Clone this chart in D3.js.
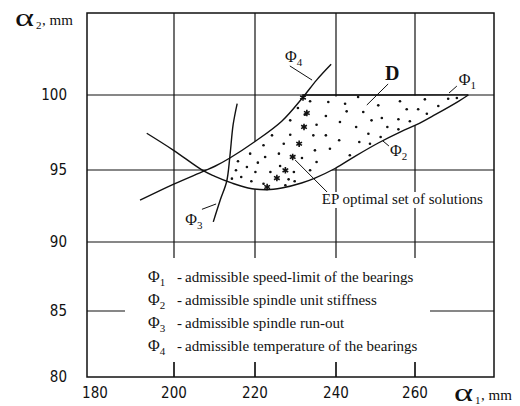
<!DOCTYPE html>
<html><head><meta charset="utf-8">
<script src="https://cdn.jsdelivr.net/npm/d3@7"></script>
<style>body{margin:0;background:#fff}svg{display:block}</style>
</head><body>
<svg id="c" width="520" height="406"></svg>
<script>
// ---------- data ----------
const xTicks = [180, 200, 220, 240, 260];
const yTicks = [80, 85, 90, 95, 100];
const xGrid = [200, 220, 240, 260];
const yGridFull = [90, 95, 100];
const yGridPartial = [85];

// Φ4 – admissible temperature of the bearings
const phi4 = [[191.4,92.9],[199.8,94.0],[207.2,94.9],[210.1,95.25],[213.8,95.8],[220,96.9],[226.6,98.25],[231.9,99.87],[235.2,101.0],[238.8,102.06]];
// Φ2 – admissible spindle unit stiffness
const phi2 = [[193.1,97.45],[199.8,96.33],[207.2,94.95],[210.1,94.56],[214.2,94.1],[218.3,93.75],[222.9,93.63],[226.6,93.75],[231.5,94.1],[234.8,94.44],[239.75,95.1],[244.8,95.91],[250.7,96.8],[256.6,97.58],[260.4,98.02],[265.1,98.69],[271.0,99.58],[273.5,100]];
// Φ3 – admissible spindle run-out
const phi3 = [[215.6,99.43],[214.6,98.02],[213.8,95.91],[213.0,94.2],[211.4,92.9],[209.7,91.4]];
// Φ1 – admissible speed-limit (alpha2 = 100)
const phi1Level = 100;

// feasible set D (small dots) and EP optimal set (asterisks)
const feasibleDots = [
 [230.6,99.13],[232.3,98.69],[228.7,98.31],[228.7,97.35],[224.2,97.31],[227.1,96.75],[222.1,96.65],[218.8,96.09],
 [222.5,95.87],[225.9,96.09],[231.6,95.8],[215.8,95.58],[218.0,95.2],[220.7,95.49],[226.2,95.27],[215.3,94.98],
 [220.1,94.86],[223.8,94.86],[229.6,94.86],[216.6,94.51],[214.3,94.4],[228.3,94.35],[229.8,94.22],[219.1,94.22],
 [222.1,94.05],[227.5,93.94],[233.6,99.58],[238.1,99.53],[242.3,99.42],[245.6,99.87],[246.9,98.87],[250.7,99.31],
 [242.7,98.91],[237.5,98.6],[241.0,98.2],[245.1,97.87],[249.0,98.31],[251.6,98.47],[235.2,98.02],[234.4,97.31],
 [237.5,97.31],[240.8,96.98],[248.2,97.42],[251.3,97.2],[253.0,97.87],[245.9,96.87],[248.6,96.75],[234.8,96.31],
 [238.5,96.42],[243.5,95.98],[235.2,95.53],[233.6,94.98],[256.2,99.58],[262.5,99.71],[268.4,99.75],[270.6,99.8],
 [265.9,99.27],[260.8,99.05],[257.9,99.05],[263.0,98.75],[255.8,98.38],[258.7,98.25],[255.8,97.71]
];
const optimalSet = [[231.85,99.83],[232.8,98.8],[232.1,97.87],[230.9,96.75],[229.3,95.87],[227.5,94.98],[225.4,94.44],[223.0,93.82]];

// labels
const curveLabels = [
  {name:"Φ", sub:"1", at:[271.1,100.67], leader:[[268.6,100.13],[270.6,100.6]]},
  {name:"Φ", sub:"2", at:[253.7,95.93], leader:[[251.9,96.93],[253.4,96.6]]},
  {name:"Φ", sub:"3", at:[202.8,91.18], leader:[[206.9,92.27],[210.4,92.64]]},
  {name:"Φ", sub:"4", at:[227.4,102.2], leader:[[228.6,101.95],[234.1,101.0]]}
];
const regionLabel = {text:"D", at:[252.4,101.0], leader:[[253.2,100.74],[247.8,99.33]]};
const epLabel = {text:"EP optimal set of solutions", at:[236.5,92.64], leader:[[229.9,95.67],[237.8,93.47]]};
const legendItems = [
  {sub:"1", text:"admissible speed-limit of the bearings"},
  {sub:"2", text:"admissible spindle unit stiffness"},
  {sub:"3", text:"admissible spindle run-out"},
  {sub:"4", text:"admissible temperature of the bearings"}
];

// ---------- layout ----------
const svg = d3.select("#c");
const x = d3.scaleLinear().domain([178,180,200,220,240,260,280]).range([87,95,174,255,336,415,494]);
const y = d3.scaleLinear().domain([80,85,90,95,100,105.5]).range([377,311,242,170,95,13]);
const X0 = x(178), X1 = x(280), Y0 = y(80), Y1 = y(105.5);
const serif = "'Liberation Serif','Times New Roman',serif";
const narrow = "'Liberation Sans Narrow','Arial Narrow','DejaVu Sans Condensed',sans-serif";
const ink = "#111";

const g = svg.append("g");

// grid lines
g.selectAll("line.vg").data(xGrid).join("line").attr("class", "vg")
  .attr("x1", d=>x(d)).attr("x2", d=>x(d)).attr("y1", Y1).attr("y2", Y0)
  .attr("stroke", ink).attr("stroke-width", 1.2);
g.selectAll("line.hg").data(yGridFull.concat(yGridPartial)).join("line").attr("class", "hg")
  .attr("x1", X0).attr("x2", X1).attr("y1", d=>y(d)).attr("y2", d=>y(d))
  .attr("stroke", ink).attr("stroke-width", 1.2);

// white legend panel masking the grid
g.append("rect").attr("x", 125).attr("y", 258).attr("width", 305).attr("height", 104).attr("fill", "#fff");

// feasible region D (white, hides the grid)
const curve = d3.line().x(d=>x(d[0])).y(d=>y(d[1])).curve(d3.curveCatmullRom);
const cross = phi4[2][0];
const seg4 = phi4.filter(d => d[0] >= cross && d[1] <= phi1Level);
const seg2 = phi2.filter(d => d[0] >= cross).slice().reverse();
g.append("path")
  .attr("d", curve(seg4) + curve(seg2).replace(/^M/, "L") + "Z")
  .attr("fill", "#fff");

// frame
g.append("rect").attr("x", X0).attr("y", Y1).attr("width", X1-X0).attr("height", Y0-Y1)
  .attr("fill", "none").attr("stroke", ink).attr("stroke-width", 1.5);

// Φ1 line segment on top of region
g.append("line").attr("x1", x(seg4[seg4.length-1][0])).attr("x2", x(phi2[phi2.length-1][0]))
  .attr("y1", y(phi1Level)).attr("y2", y(phi1Level)).attr("stroke", ink).attr("stroke-width", 1.3);

// curves
[phi4, phi2, phi3].forEach(c => {
  g.append("path").attr("d", curve(c)).attr("fill", "none").attr("stroke", ink).attr("stroke-width", 1.4);
});

// dots
g.selectAll("circle.fd").data(feasibleDots).join("circle").attr("class", "fd")
  .attr("cx", d=>x(d[0])).attr("cy", d=>y(d[1])).attr("r", 1.3).attr("fill", ink);
g.selectAll("path.ep").data(optimalSet).join("path").attr("class", "ep")
  .attr("transform", d=>`translate(${x(d[0])},${y(d[1])})`)
  .attr("d", d3.symbol().type(d3.symbolAsterisk).size(30))
  .attr("fill", "none").attr("stroke", ink).attr("stroke-width", 1.6);

// leaders
const straight = d3.line().x(d=>x(d[0])).y(d=>y(d[1]));
curveLabels.concat([regionLabel, epLabel]).forEach(l => {
  g.append("path").attr("d", straight(l.leader)).attr("stroke", ink).attr("stroke-width", 1).attr("fill", "none");
});

// curve labels
curveLabels.forEach(l => {
  const t = g.append("text").attr("x", x(l.at[0])).attr("y", y(l.at[1]))
    .attr("font-family", serif).attr("font-size", 16).attr("fill", ink).text(l.name);
  t.append("tspan").attr("font-size", 11).attr("dy", 4).text(l.sub);
});
g.append("text").attr("x", x(regionLabel.at[0])).attr("y", y(regionLabel.at[1]))
  .attr("font-family", serif).attr("font-size", 20).attr("font-weight", "bold").attr("fill", ink).text(regionLabel.text);

// EP label with white background
const ex = x(epLabel.at[0]), ey = y(epLabel.at[1]);
g.append("rect").attr("x", ex-2).attr("y", ey-12).attr("width", 167).attr("height", 16).attr("fill", "#fff");
g.append("text").attr("x", ex).attr("y", ey).attr("font-family", serif).attr("font-size", 15)
  .attr("fill", ink).text(epLabel.text);

// ticks at bottom inside legend area
g.selectAll("line.bt").data(xGrid).join("line").attr("class", "bt")
  .attr("x1", d=>x(d)).attr("x2", d=>x(d)).attr("y1", Y0-15).attr("y2", Y0)
  .attr("stroke", ink).attr("stroke-width", 1.2);

// tick labels
g.selectAll("text.xt").data(xTicks).join("text").attr("class", "xt")
  .attr("x", d=>x(d)).attr("y", 398).attr("text-anchor", "middle")
  .attr("font-family", narrow).attr("font-size", 15).attr("fill", ink).text(d=>d);
g.selectAll("text.yt").data(yTicks).join("text").attr("class", "yt")
  .attr("x", 67).attr("y", d=>y(d)).attr("dy", "0.35em").attr("text-anchor", "end")
  .attr("font-family", narrow).attr("font-size", 15).attr("fill", ink).text(d=>d);

// legend
legendItems.forEach((it, i) => {
  const by = 282 + i*23;
  const t = g.append("text").attr("x", 148).attr("y", by).attr("font-family", serif)
    .attr("font-size", 16).attr("fill", ink).text("Φ");
  t.append("tspan").attr("font-size", 11).attr("dy", 4).text(it.sub);
  g.append("text").attr("x", 177).attr("y", by).attr("font-family", serif).attr("font-size", 15)
    .attr("fill", ink).text("-");
  g.append("text").attr("x", 185).attr("y", by).attr("font-family", serif).attr("font-size", 15)
    .attr("fill", ink).text(it.text);
});

// axis titles
function axisTitle(px, py, sub) {
  g.append("text").attr("x", px).attr("y", py).attr("font-family", serif).attr("font-size", 26)
    .attr("textLength", 19).attr("lengthAdjust", "spacingAndGlyphs").attr("fill", ink).text("α");
  g.append("text").attr("x", px+21).attr("y", py+3).attr("font-family", serif).attr("font-size", 11)
    .attr("fill", ink).text(sub);
  g.append("text").attr("x", px+27).attr("y", py-1).attr("font-family", serif).attr("font-size", 15)
    .attr("fill", ink).text(", mm");
}
axisTitle(15, 26, "2");
axisTitle(454, 401, "1");
</script>
</body></html>
